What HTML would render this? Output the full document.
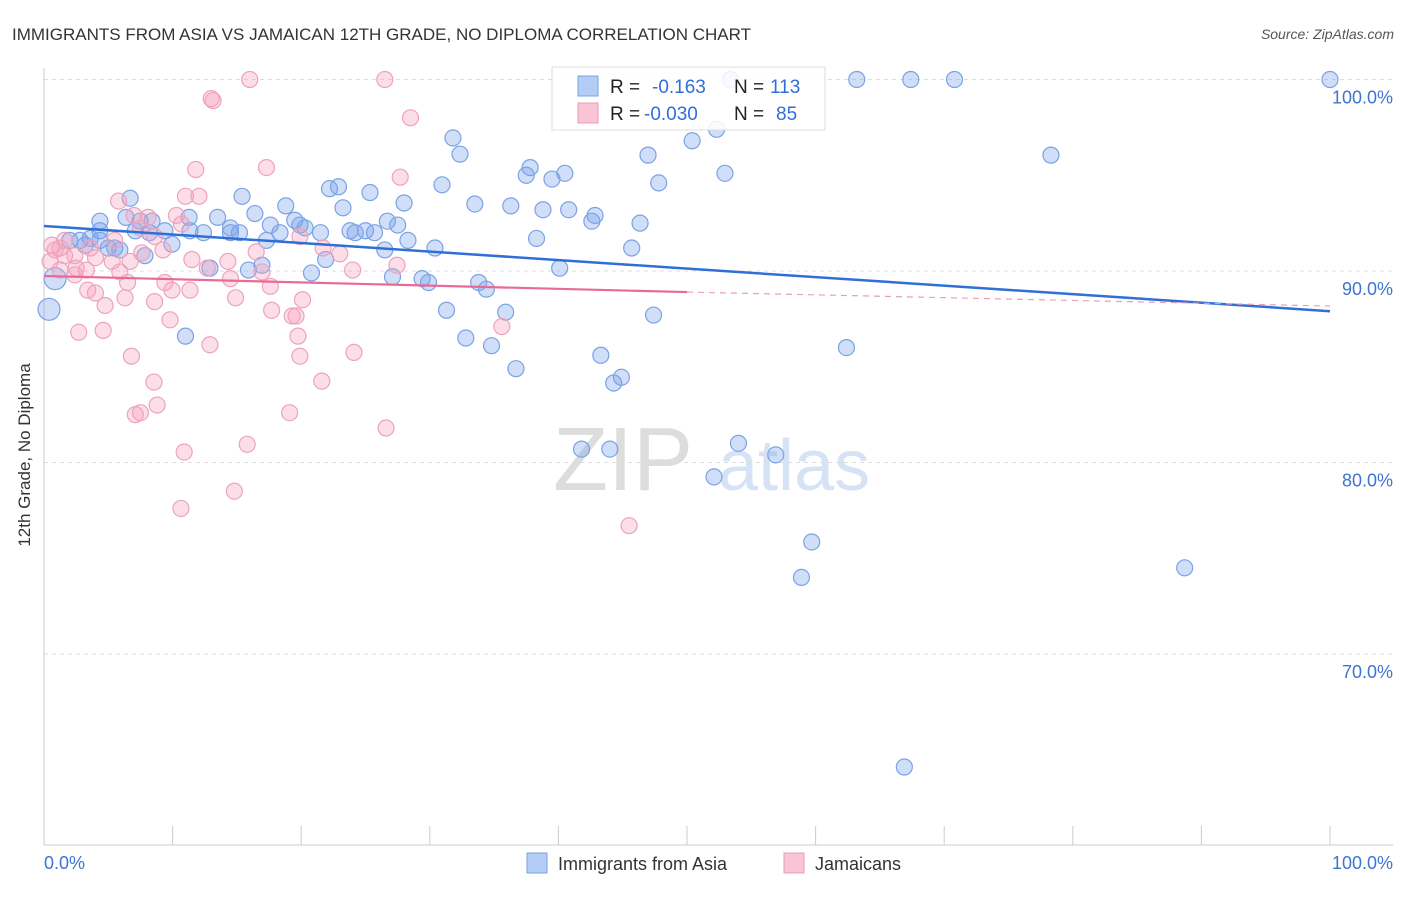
<!DOCTYPE html>
<html><head><meta charset="utf-8"><style>
body{margin:0;background:#fff;font-family:"Liberation Sans",sans-serif;}
svg text{font-family:"Liberation Sans",sans-serif;}
</style></head><body>
<svg width="1406" height="892" xmlns="http://www.w3.org/2000/svg">
<text x="12" y="40" font-size="17" fill="#333">IMMIGRANTS FROM ASIA VS JAMAICAN 12TH GRADE, NO DIPLOMA CORRELATION CHART</text>
<text x="1394" y="39" font-size="14" fill="#555" font-style="italic" text-anchor="end">Source: ZipAtlas.com</text>
<g><text x="553" y="490" font-size="90" fill="#ddd" font-family="Liberation Serif">ZIP</text><text x="718" y="490" font-size="72" fill="#d5e3f5">atlas</text></g>
<g id="grid"></g>
<g id="axes"></g>
<g id="pts"></g>
<g id="trend"></g>
<text x="30" y="455" font-size="17" fill="#333" transform="rotate(-90 30 455)" text-anchor="middle">12th Grade, No Diploma</text>
<g>
<rect x="552" y="67" width="273" height="63" fill="#fff" fill-opacity="0.85" stroke="#ddd"/>
<rect x="578" y="76" width="20" height="20" fill="#b3cdf5" stroke="#7aa3e5"/>
<rect x="578" y="103" width="20" height="20" fill="#f9c4d5" stroke="#eb9bb8"/>
<text x="610" y="93" font-size="19" fill="#222">R = </text><text x="652" y="93" font-size="19" fill="#2f6fd6">-0.163</text>
<text x="734" y="93" font-size="19" fill="#222">N = </text><text x="770" y="93" font-size="19" fill="#2f6fd6">113</text>
<text x="610" y="120" font-size="19" fill="#222">R = </text><text x="644" y="120" font-size="19" fill="#2f6fd6">-0.030</text>
<text x="734" y="120" font-size="19" fill="#222">N = </text><text x="776" y="120" font-size="19" fill="#2f6fd6">85</text>
</g>
<g>
<rect x="527" y="853" width="20" height="20" fill="#b3cdf5" stroke="#7aa3e5"/>
<text x="558" y="870" font-size="18" fill="#333">Immigrants from Asia</text>
<rect x="784" y="853" width="20" height="20" fill="#f9c4d5" stroke="#eb9bb8"/>
<text x="815" y="870" font-size="18" fill="#333">Jamaicans</text>
</g>
</svg>
<script>
const yTicks=[100,90,80,70];
const yTickLabels=["100.0%","90.0%","80.0%","70.0%"];
const xTickLabels=["0.0%","100.0%"];
const blueX=[0.86,0.39,4.35,6.38,7.47,8.4,11.28,15.4,16.4,18.8,22.2,22.9,25.35,23.25,28.0,31.8,32.35,30.95,33.5,36.3,37.8,37.5,39.5,40.5,38.8,40.8,42.85,42.6,46.35,46.97,50.4,52.3,47.8,52.95,53.4,63.2,67.4,70.8,78.3,100,4.35,2.8,3.6,5.5,6.7,9.95,12.4,14.5,17.3,18.35,19.9,21.5,24.2,25.7,26.7,27.5,28.3,30.4,38.3,40.1,45.7,16.95,15.9,12.9,20.8,21.9,26.5,27.1,29.4,29.9,33.8,34.4,35.9,31.3,32.8,34.8,36.7,43.3,44.3,44.9,47.4,62.4,11.0,41.8,44.0,52.1,54.0,56.9,59.7,58.9,88.7,66.9,8.2,9.4,7.1,13.5,14.5,15.2,17.6,19.5,20.3,23.8,25.0,7.85,5.9,5.0,2.0,3.2,4.35,11.35];
const blueY=[89.6,88.0,92.6,92.8,92.6,92.6,92.8,93.9,93.0,93.4,94.3,94.4,94.1,93.3,93.55,96.95,96.1,94.5,93.5,93.4,95.4,95.0,94.8,95.1,93.2,93.2,92.9,92.6,92.5,96.05,96.8,97.4,94.6,95.1,100,100,100,100,96.05,100,91.6,91.6,91.7,91.2,93.8,91.4,92.0,92.0,91.6,92.0,92.4,92.0,92.0,92.0,92.6,92.4,91.6,91.2,91.7,90.15,91.2,90.3,90.05,90.15,89.9,90.6,91.1,89.7,89.6,89.4,89.4,89.05,87.85,87.95,86.5,86.1,84.9,85.6,84.15,84.45,87.7,86.0,86.6,80.7,80.7,79.25,81.0,80.4,75.85,74.0,74.5,64.1,92.0,92.1,92.1,92.8,92.25,92.0,92.4,92.65,92.25,92.1,92.1,90.8,91.1,91.2,91.6,91.35,92.1,92.1];
const pinkX=[16.0,26.5,13.0,13.15,28.5,11.8,17.3,27.7,5.8,11.0,12.05,7.0,8.1,10.3,10.7,7.5,8.6,0.6,1.25,1.6,2.4,4.0,5.3,6.7,7.6,9.25,11.5,12.7,14.3,16.5,16.95,19.9,21.7,23.0,24.0,27.45,2.5,3.3,3.4,4.0,4.75,6.3,6.5,8.6,9.95,11.35,9.4,14.9,17.6,17.7,19.3,19.6,20.1,19.75,19.9,21.6,24.1,9.8,12.9,4.6,2.7,6.8,8.55,8.8,7.1,7.5,10.9,15.8,19.1,26.6,14.8,10.65,45.5,35.6,14.5,0.47,0.86,1.6,3.6,5.5,5.9,1.25,2.4];
const pinkY=[100,100,99.0,98.9,98.0,95.3,95.4,94.9,93.65,93.9,93.9,92.9,92.8,92.9,92.45,92.25,91.8,91.35,91.2,90.8,90.8,90.7,90.5,90.5,90.95,91.1,90.6,90.15,90.5,91.0,89.95,91.8,91.2,90.9,90.05,90.3,90.15,90.05,89.0,88.85,88.2,88.6,89.4,88.4,89.0,89.0,89.4,88.6,89.2,87.95,87.65,87.65,88.5,86.6,85.55,84.25,85.75,87.45,86.15,86.9,86.8,85.55,84.2,83.0,82.5,82.6,80.55,80.95,82.6,81.8,78.5,77.6,76.7,87.1,89.6,90.5,91.1,91.6,91.2,91.6,89.95,90.05,89.8];
const blueTrend=[92.35,87.9];
const pinkTrend=[89.74,88.9,88.17];
const bigBlue=[0,1];

const X0=44,X1=1330,Y100=79.5,PX=19.15;
const sx=v=>X0+(X1-X0)*v/100;
const sy=v=>Y100+(100-v)*PX;
const NS="http://www.w3.org/2000/svg";
function mk(p,tag,attrs){const e=document.createElementNS(NS,tag);for(const k in attrs)e.setAttribute(k,attrs[k]);p.appendChild(e);return e;}
const grid=document.getElementById('grid'),axes=document.getElementById('axes'),pts=document.getElementById('pts'),tr=document.getElementById('trend');
yTicks.forEach((t,i)=>{
 const l=mk(grid,'line',{x1:X0,x2:1393,y1:sy(t),y2:sy(t),stroke:'#ddd','stroke-dasharray':'4,4'});
 
 
 const tx=mk(axes,'text',{x:1393,y:sy(t)+24,'font-size':18,fill:'#3d74d1','text-anchor':'end'});
 tx.textContent=yTickLabels[i];
 
 
});
mk(axes,'line',{x1:X0,x2:X0,y1:68,y2:845,stroke:'#ccc'});
mk(axes,'line',{x1:X0,x2:1393,y1:845,y2:845,stroke:'#ccc'});
for(let i=1;i<=10;i++){const t=mk(axes,'line',{x1:sx(i*10),x2:sx(i*10),y1:826,y2:845,stroke:'#ccc'});}
[[0,'start',44],[100,'end',1393]].forEach((d,i)=>{const t=mk(axes,'text',{x:d[2],y:869,'font-size':18,fill:'#3d74d1','text-anchor':d[1]});t.textContent=xTickLabels[i];});
blueX.forEach((x,i)=>{
 const c=mk(pts,'circle',{cx:sx(x),cy:sy(blueY[i]),r:bigBlue.includes(i)?11:8,fill:'rgba(120,160,235,0.35)',stroke:'#7aa3e5','stroke-width':1.2});
 
 
});
pinkX.forEach((x,i)=>{
 const c=mk(pts,'circle',{cx:sx(x),cy:sy(pinkY[i]),r:8,fill:'rgba(245,160,190,0.35)',stroke:'#eda3bd','stroke-width':1.2});
 
 
});
const bl=mk(tr,'line',{x1:sx(0),y1:sy(blueTrend[0]),x2:sx(100),y2:sy(blueTrend[1]),stroke:'#2f6fd6','stroke-width':2.5});


const pl=mk(tr,'line',{x1:sx(0),y1:sy(pinkTrend[0]),x2:sx(50),y2:sy(pinkTrend[1]),stroke:'#e86a95','stroke-width':2.2});


const pd=mk(tr,'line',{x1:sx(50),y1:sy(pinkTrend[1]),x2:sx(100),y2:sy(pinkTrend[2]),stroke:'#e8a0b8','stroke-width':1.2,'stroke-dasharray':'6,5'});


</script>
</body></html>
